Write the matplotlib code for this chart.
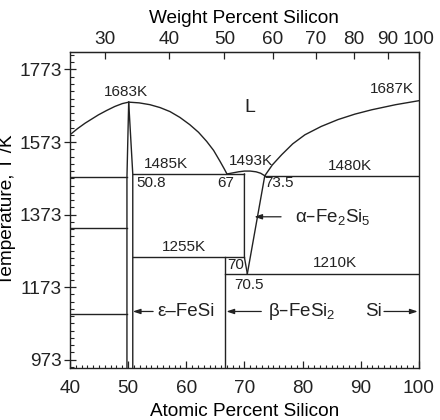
import matplotlib
matplotlib.use("Agg")
import matplotlib.pyplot as plt
import numpy as np
from matplotlib.ticker import MultipleLocator, FixedLocator

plt.rcParams.update({
    "font.family": ["Liberation Sans", "DejaVu Sans"],
    "mathtext.default": "regular",
    "text.color": "#222222",
    "axes.edgecolor": "#222222",
    "xtick.color": "#222222",
    "ytick.color": "#222222",
})

LC = "#222222"
LW = 1.0

# ---- data (atomic % Si, temperature in K) ----
liq_left_x = [40, 41.3, 42.6, 43.8, 44.9, 46.3, 47.7, 49, 50.1, 51.9, 53.75,
              55.5, 57.2, 58.9, 60.6, 62.1, 63.5, 64.7, 65.8, 66.5, 67]
liq_left_t = [1593, 1610, 1625, 1637, 1648, 1660, 1671, 1679, 1683, 1681, 1676,
              1668, 1657, 1641, 1621, 1600, 1575, 1550, 1520, 1500, 1485]

liq_si_x = [73.5, 74.8, 76.4, 78.3, 80.4, 83.2, 86.1, 89, 91.9, 96, 100]
liq_si_t = [1480, 1510, 1538, 1568, 1593, 1616, 1635, 1650, 1662, 1676, 1687]

dome_x = [67, 68, 69, 70, 71, 72, 72.8, 73.5]
dome_t = [1485, 1488, 1491, 1493, 1493, 1491, 1487, 1480]

fesi_left_x = [50.1, 49.8, 49.8]
fesi_left_t = [1683, 1476, 950]
fesi_right_x = [50.1, 50.8, 50.8]
fesi_right_t = [1683, 1485, 950]

alpha_left_x = [70, 70, 70.5]
alpha_left_t = [1485, 1255, 1210]
alpha_right_x = [73.5, 70.5]
alpha_right_t = [1480, 1210]

beta_x = [66.7, 66.7]
beta_t = [950, 1255]

# horizontal invariant lines: (x start, x end, T)
h_lines = [
    (40, 49.8, 1476),
    (40, 49.8, 1335),
    (40, 49.8, 1099),
    (50.8, 70, 1485),
    (73.5, 100, 1480),
    (50.8, 70, 1255),
    (66.7, 100, 1210),
]

# text labels: (x, T, text, size, ha)
labels = [
    (49.6, 1711, "1683K", 11, "center"),
    (70.9, 1667, "L", 14, "center"),
    (95.3, 1718, "1687K", 11, "center"),
    (56.5, 1512, "1485K", 11, "center"),
    (53.95, 1459, "50.8", 11, "center"),
    (66.7, 1461, "67", 11, "center"),
    (71.1, 1521, "1493K", 11, "center"),
    (75.9, 1461, "73.5", 11, "center"),
    (88.1, 1507, "1480K", 11, "center"),
    (59.6, 1285, "1255K", 11, "center"),
    (68.5, 1234, "70", 11, "center"),
    (85.5, 1239, "1210K", 11, "center"),
    (70.8, 1179, "70.5", 11, "center"),
    (78.7, 1367, "α–Fe$_2$Si$_5$", 13.5, "left"),
    (60.0, 1106, "ε–FeSi", 13.5, "center"),
    (74.1, 1106, "β–FeSi$_2$", 13.5, "left"),
    (90.8, 1106, "Si", 13.5, "left"),
]

# arrows: (tail x, tip x, T)
arrows = [
    (76.3, 71.7, 1367),
    (54.3, 50.8, 1106),
    (72.9, 66.9, 1106),
    (94.0, 99.8, 1106),
]

M_SI, M_FE = 28.0855, 55.845


def at_to_wt(a):
    a = np.asarray(a, dtype=float)
    return 100 * a * M_SI / (a * M_SI + (100 - a) * M_FE)


def wt_to_at(w):
    w = np.asarray(w, dtype=float)
    return 100 * (w / M_SI) / (w / M_SI + (100 - w) / M_FE)


fig = plt.figure(figsize=(4.4, 4.2), dpi=100)
ax = fig.add_axes([0.159, 0.1245, 0.793, 0.7515])

line_kw = dict(color=LC, lw=LW, solid_joinstyle="round")
ax.plot(liq_left_x, liq_left_t, **line_kw)
ax.plot(liq_si_x, liq_si_t, **line_kw)
ax.plot(dome_x, dome_t, **line_kw)
ax.plot(fesi_left_x, fesi_left_t, **line_kw)
ax.plot(fesi_right_x, fesi_right_t, **line_kw)
ax.plot(alpha_left_x, alpha_left_t, **line_kw)
ax.plot(alpha_right_x, alpha_right_t, **line_kw)
ax.plot(beta_x, beta_t, **line_kw)
for x0, x1, t in h_lines:
    ax.plot([x0, x1], [t, t], **line_kw)

for x, t, s, fs, ha in labels:
    ax.text(x, t, s, fontsize=fs, ha=ha, va="center")

for x0, x1, t in arrows:
    ax.annotate("", xy=(x1, t), xytext=(x0, t),
                arrowprops=dict(arrowstyle="-|>,head_length=0.45,head_width=0.15",
                                color=LC, lw=0.9, shrinkA=0, shrinkB=0))

ax.set_xlim(40, 100)
ax.set_ylim(951, 1821)
ax.xaxis.set_major_locator(MultipleLocator(10))
ax.xaxis.set_minor_locator(MultipleLocator(1))
ax.yaxis.set_major_locator(FixedLocator([973, 1173, 1373, 1573, 1773]))
ax.yaxis.set_minor_locator(FixedLocator(np.arange(953, 1821, 20)))
ax.tick_params(axis="x", which="major", direction="in", length=5, width=0.9,
               labelsize=13.7, pad=9)
ax.tick_params(axis="x", which="minor", direction="in", length=2.5, width=0.8)
ax.tick_params(axis="y", which="major", direction="inout", length=8, width=0.9,
               labelsize=13.7, pad=2)
ax.tick_params(axis="y", which="minor", direction="in", length=3, width=0.8)

ax.set_xlabel("Atomic Percent Silicon", fontsize=13.7, labelpad=4)
ax.set_ylabel("Temperature, T /K", fontsize=13.7)
ax.yaxis.set_label_coords(-0.155, 0.5)

top = ax.secondary_xaxis("top", functions=(at_to_wt, wt_to_at))
top.set_xticks([30, 40, 50, 60, 70, 80, 90, 100])
top.tick_params(axis="x", which="major", direction="in", length=5, width=0.9,
                labelsize=13.7, pad=3)
top.tick_params(axis="x", which="minor", length=0)
top.set_xlabel("Weight Percent Silicon", fontsize=13.7, labelpad=6)

for sp in ax.spines.values():
    sp.set_linewidth(1.0)

fig.savefig("out.png", dpi=100)
